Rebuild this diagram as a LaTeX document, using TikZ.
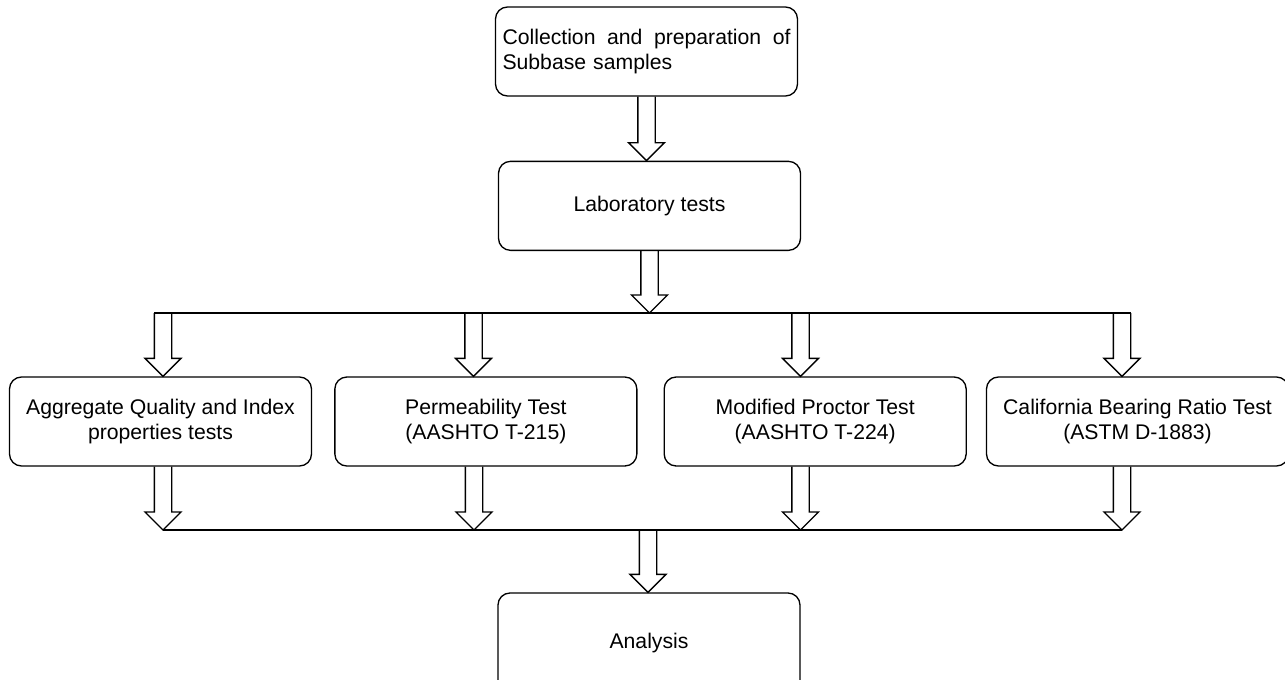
\documentclass[tikz,border=0pt]{standalone}
\usepackage{fontspec}
\setmainfont{Liberation Sans}
\usepackage{tikz}
\usetikzlibrary{positioning,calc}

% hollow block arrow pointing down, open at its top end
\newcommand{\blockdown}[2]{%
  \draw[blk] let \p1=(#1), \p2=(#2) in
    (\x1-6.5pt,\y1) -- (\x1-6.5pt,\y2+13.5pt) -- (\x1-13.5pt,\y2+13.5pt)
    -- (\x1,\y2) -- (\x1+13.5pt,\y2+13.5pt) -- (\x1+6.5pt,\y2+13.5pt) -- (\x1+6.5pt,\y1);}

\begin{document}
\begin{tikzpicture}[x=0.75pt, y=-0.75pt, font=\fontsize{15.9}{18.75}\selectfont]
\tikzset{stage/.style={draw, line width=1pt, rounded corners=9pt, align=center, inner sep=0pt, minimum width=226.5pt, minimum height=66.75pt},
  blk/.style={draw, line width=1pt, line join=miter}}
\useasboundingbox (0,0) rectangle (1285,679);
\node[stage, text width=216pt, align=left] (collect) at (646.5,51.5) {\hbox to 216pt{Collection\hfil\ and\hfil\ preparation\hfil\ of}\\Subbase samples};
\node[stage, below=48pt of collect.south, anchor=north, xshift=2.25pt] (lab) {Laboratory tests};
\node[stage] (aggr) at (160.5,421.5) {Aggregate Quality and Index\\properties tests};
\node[stage, right=16.5pt of aggr] (perm) {Permeability Test\\(AASHTO T-215)};
\node[stage, right=19.5pt of perm] (proctor) {Modified Proctor Test\\(AASHTO T-224)};
\node[stage, right=14.25pt of proctor] (cbr) {California Bearing Ratio Test\\(ASTM D-1883)};
\node[stage, minimum height=75.75pt] (analysis) at (649,643.5) {Analysis};
% split and join bars
\coordinate (split) at (648,313);
\coordinate (s1) at (163,313);
\coordinate (s2) at (473.5,313);
\coordinate (s3) at (800.5,313);
\coordinate (s4) at (1122,313);
\coordinate (join) at (648,530);
\coordinate (j1) at (163,530);
\coordinate (j2) at (474,530);
\coordinate (j3) at (800.5,530);
\coordinate (j4) at (1122,530);
\blockdown{collect.south}{lab.north}
\blockdown{lab.south}{split}
\draw[blk] ([xshift=-6.5pt]s1) -- ([xshift=6.5pt]s4);
\blockdown{s1}{s1 |- aggr.north}
\blockdown{s2}{s2 |- perm.north}
\blockdown{s3}{s3 |- proctor.north}
\blockdown{s4}{s4 |- cbr.north}
\blockdown{j1 |- aggr.south}{j1}
\blockdown{j2 |- perm.south}{j2}
\blockdown{j3 |- proctor.south}{j3}
\blockdown{j4 |- cbr.south}{j4}
\draw[blk] (j1) -- (j4);
\blockdown{join}{analysis.north}
\end{tikzpicture}
\end{document}
